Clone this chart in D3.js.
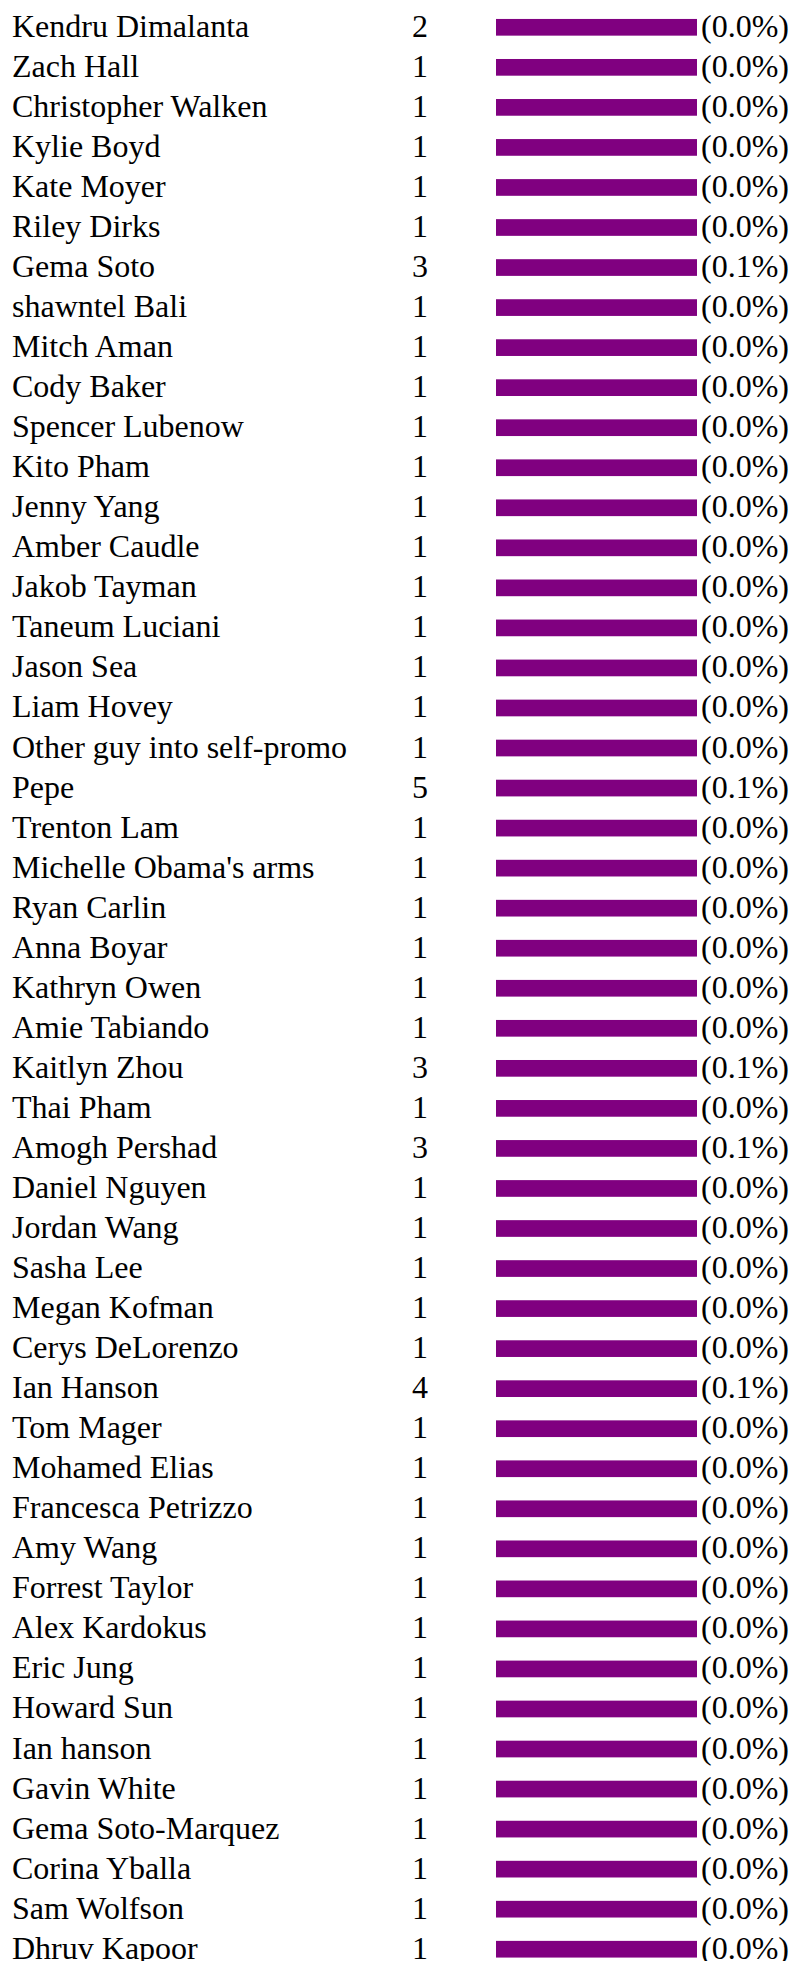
<!DOCTYPE html>
<html>
<head>
<meta charset="utf-8">
<script src="https://cdn.jsdelivr.net/npm/d3@7"></script>
<style>
  html, body { margin: 0; padding: 0; background: #fff; }
  svg { display: block; }
  text { font-family: "Liberation Serif", "Times New Roman", serif; font-size: 32px; fill: #000; }
</style>
</head>
<body>
<script>
const names = ["Kendru Dimalanta","Zach Hall","Christopher Walken","Kylie Boyd","Kate Moyer","Riley Dirks","Gema Soto","shawntel Bali","Mitch Aman","Cody Baker","Spencer Lubenow","Kito Pham","Jenny Yang","Amber Caudle","Jakob Tayman","Taneum Luciani","Jason Sea","Liam Hovey","Other guy into self-promo","Pepe","Trenton Lam","Michelle Obama's arms","Ryan Carlin","Anna Boyar","Kathryn Owen","Amie Tabiando","Kaitlyn Zhou","Thai Pham","Amogh Pershad","Daniel Nguyen","Jordan Wang","Sasha Lee","Megan Kofman","Cerys DeLorenzo","Ian Hanson","Tom Mager","Mohamed Elias","Francesca Petrizzo","Amy Wang","Forrest Taylor","Alex Kardokus","Eric Jung","Howard Sun","Ian hanson","Gavin White","Gema Soto-Marquez","Corina Yballa","Sam Wolfson","Dhruv Kapoor"];
const counts = [2,1,1,1,1,1,3,1,1,1,1,1,1,1,1,1,1,1,1,5,1,1,1,1,1,1,3,1,3,1,1,1,1,1,4,1,1,1,1,1,1,1,1,1,1,1,1,1,1];
const percents = ["0.0","0.0","0.0","0.0","0.0","0.0","0.1","0.0","0.0","0.0","0.0","0.0","0.0","0.0","0.0","0.0","0.0","0.0","0.0","0.1","0.0","0.0","0.0","0.0","0.0","0.0","0.1","0.0","0.1","0.0","0.0","0.0","0.0","0.0","0.1","0.0","0.0","0.0","0.0","0.0","0.0","0.0","0.0","0.0","0.0","0.0","0.0","0.0","0.0"];
// every bar in the reference is drawn as a full-length track
const barFill = names.map(() => 1);

const W = 796, H = 1961;
const rows = names.map((n, i) => ({ name: n, count: counts[i], pct: percents[i], fill: barFill[i] }));

const svg = d3.select("body").append("svg").attr("width", W).attr("height", H);

const step = 40.04;
const y = d3.scaleBand()
  .domain(names)
  .range([27.3 - step / 2, 27.3 - step / 2 + step * names.length])
  .paddingInner(0.583)
  .paddingOuter(0.2915);

const x = d3.scaleLinear().domain([0, 1]).range([496, 697]);

const g = svg.selectAll("g.row").data(rows).join("g").attr("class", "row");

g.append("text")
  .attr("x", 12)
  .attr("y", d => y(d.name) + y.bandwidth() / 2 + 9.5)
  .text(d => d.name);

g.append("text")
  .attr("x", 412)
  .attr("y", d => y(d.name) + y.bandwidth() / 2 + 9.5)
  .text(d => d.count);

g.append("rect")
  .attr("x", x(0))
  .attr("y", d => y(d.name))
  .attr("width", d => x(d.fill) - x(0))
  .attr("height", y.bandwidth())
  .attr("fill", "#800080");

g.append("text")
  .attr("x", 701)
  .attr("y", d => y(d.name) + y.bandwidth() / 2 + 9.5)
  .text(d => "(" + d.pct + "%)");
</script>
</body>
</html>
